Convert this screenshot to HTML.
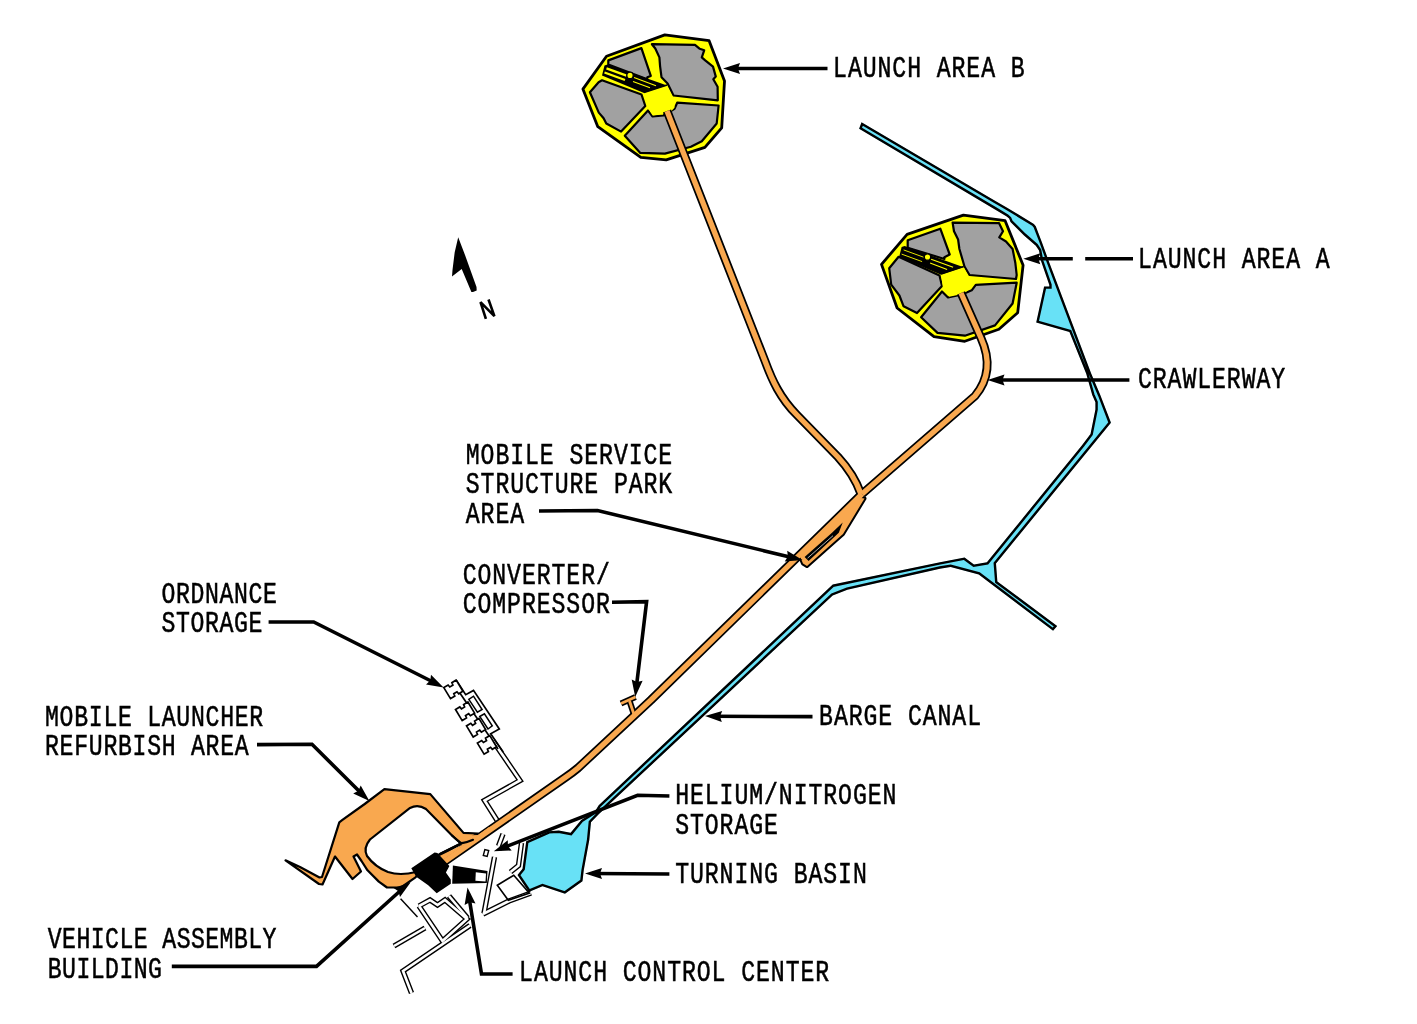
<!DOCTYPE html><html><head><meta charset="utf-8"><style>html,body{margin:0;padding:0;background:#fff;overflow:hidden;}svg{display:block}</style></head><body>
<svg width="1417" height="1024" viewBox="0 0 1417 1024">
<rect width="1417" height="1024" fill="#fff"/>
<clipPath id="cc"><polygon points="861.5,122.3 995.0,200.8 1006.7,207.5 1033.9,223.9 1035.8,226.3 1041.9,242.2 1049.1,262.0 1091.3,373.8 1100.3,395.0 1111.0,422.8 996.0,563.4 997.4,581.5 1057.2,626.1 1053.1,630.8 978.7,574.5 950.6,566.9 940.0,568.7 847.4,589.7 832.7,595.5 616.3,797.8 599.0,814.0 591.0,822.2 589.3,840.0 583.8,870.0 582.5,881.2 565.0,893.8 542.5,886.2 528.8,891.9 517.5,875.0 522.5,868.8 526.2,841.2 548.8,831.2 558.8,830.6 570.6,832.8 581.2,820.0 595.0,811.2 598.7,805.2 832.7,584.6 940.0,562.2 964.6,557.5 974.0,564.5 986.9,562.2 1082.2,445.0 1090.5,434.1 1095.4,409.6 1095.4,402.3 1092.2,395.0 1086.2,373.8 1069.4,331.9 1036.2,322.5 1044.1,286.4 1049.3,286.4 1049.3,285.0 1041.0,261.0 1039.0,250.5 1035.8,245.7 1024.0,235.4 1010.5,222.0 1009.1,218.6 1006.7,216.4 995.0,209.4 859.1,128.8"/></clipPath>
<polygon points="861.5,122.3 995.0,200.8 1006.7,207.5 1033.9,223.9 1035.8,226.3 1041.9,242.2 1049.1,262.0 1091.3,373.8 1100.3,395.0 1111.0,422.8 996.0,563.4 997.4,581.5 1057.2,626.1 1053.1,630.8 978.7,574.5 950.6,566.9 940.0,568.7 847.4,589.7 832.7,595.5 616.3,797.8 599.0,814.0 591.0,822.2 589.3,840.0 583.8,870.0 582.5,881.2 565.0,893.8 542.5,886.2 528.8,891.9 517.5,875.0 522.5,868.8 526.2,841.2 548.8,831.2 558.8,830.6 570.6,832.8 581.2,820.0 595.0,811.2 598.7,805.2 832.7,584.6 940.0,562.2 964.6,557.5 974.0,564.5 986.9,562.2 1082.2,445.0 1090.5,434.1 1095.4,409.6 1095.4,402.3 1092.2,395.0 1086.2,373.8 1069.4,331.9 1036.2,322.5 1044.1,286.4 1049.3,286.4 1049.3,285.0 1041.0,261.0 1039.0,250.5 1035.8,245.7 1024.0,235.4 1010.5,222.0 1009.1,218.6 1006.7,216.4 995.0,209.4 859.1,128.8" fill="#68E1F6" stroke="#000" stroke-width="4.8" stroke-linejoin="miter" clip-path="url(#cc)"/>
<g fill="none" stroke-linejoin="miter" stroke-linecap="butt">
<polyline points="493.0,741.0 520.0,780.5 484.5,800.5 497.5,821.0" stroke="#000" stroke-width="5.4"/>
<polyline points="503.0,834.0 498.5,846.0" stroke="#000" stroke-width="5.4"/>
<polyline points="494.5,857.0 484.0,913.5" stroke="#000" stroke-width="5.4"/>
<polyline points="483.0,914.0 509.0,901.0 531.0,893.0" stroke="#000" stroke-width="5.4"/>
<polyline points="470.0,925.5 403.0,971.0 411.5,993.0" stroke="#000" stroke-width="5.4"/>
<polyline points="425.0,928.0 394.0,946.0" stroke="#000" stroke-width="5.4"/>
<polyline points="419.0,906.0 430.0,900.0 437.5,905.0 445.0,900.0 467.0,919.0 442.5,941.0 419.0,906.0" stroke="#000" stroke-width="5.4"/>
<polyline points="449.0,896.0 467.5,918.0" stroke="#000" stroke-width="5.4"/>
<polyline points="510.5,872.0 518.5,865.5 521.5,843.0" stroke="#000" stroke-width="5.4"/>
<polyline points="493.0,741.0 520.0,780.5 484.5,800.5 497.5,821.0" stroke="#fff" stroke-width="2.6"/>
<polyline points="503.0,834.0 498.5,846.0" stroke="#fff" stroke-width="2.6"/>
<polyline points="494.5,857.0 484.0,913.5" stroke="#fff" stroke-width="2.6"/>
<polyline points="483.0,914.0 509.0,901.0 531.0,893.0" stroke="#fff" stroke-width="2.6"/>
<polyline points="470.0,925.5 403.0,971.0 411.5,993.0" stroke="#fff" stroke-width="2.6"/>
<polyline points="425.0,928.0 394.0,946.0" stroke="#fff" stroke-width="2.6"/>
<polyline points="419.0,906.0 430.0,900.0 437.5,905.0 445.0,900.0 467.0,919.0 442.5,941.0 419.0,906.0" stroke="#fff" stroke-width="2.6"/>
<polyline points="449.0,896.0 467.5,918.0" stroke="#fff" stroke-width="2.6"/>
<polyline points="510.5,872.0 518.5,865.5 521.5,843.0" stroke="#fff" stroke-width="2.6"/>
<polyline points="400.6,898.7 417.5,917" stroke="#000" stroke-width="1.4"/>
<rect x="484" y="850" width="4" height="6" fill="#fff" stroke="#000" stroke-width="1.4" transform="rotate(15 486 853)"/>
<polygon points="497.3,885.3 513.75,875.2 529.4,893.1 508.3,900.2" fill="none" stroke="#000" stroke-width="1.6"/>
</g>
<g fill="none" stroke="#000" stroke-width="1.7" stroke-linejoin="miter">
<polyline points="456.3,680.2 465.7,694.7 473.5,690.4 499.3,729 490.7,733.7 503.2,752"/>
<polyline points="458.5,691 498,749"/>
<polygon points="468.8,699.3 473.5,696.2 482.1,709.5 477.4,712.2" stroke-width="1.5"/>
<polygon points="479.75,716.5 484.4,713.8 492.25,725.9 488,729" stroke-width="1.5"/>
<polygon points="456.2,680.1 451.9,682.7 452.9,685.1 449.8,687.0 448.1,685.0 443.8,687.6 450.5,698.7 454.8,696.1 453.8,693.7 457.0,691.8 458.7,693.8 462.9,691.2" fill="#fff"/>
<polygon points="467.9,702.0 463.6,704.6 464.6,707.0 461.5,708.9 459.8,706.9 455.5,709.5 462.2,720.6 466.5,718.0 465.5,715.6 468.7,713.7 470.4,715.7 474.6,713.1" fill="#fff"/>
<polygon points="478.9,718.4 474.6,721.0 475.6,723.4 472.5,725.3 470.8,723.3 466.5,725.9 473.2,737.0 477.5,734.4 476.5,732.0 479.7,730.1 481.4,732.1 485.6,729.5" fill="#fff"/>
<polygon points="489.8,735.6 485.5,738.2 486.5,740.6 483.4,742.5 481.7,740.5 477.4,743.1 484.1,754.2 488.4,751.6 487.4,749.2 490.6,747.3 492.3,749.3 496.5,746.7" fill="#fff"/>
</g>
<g id="padB"><polygon points="664.8,34.9 709.1,40.7 724.5,81.1 721.7,127.9 704.9,147.4 666.2,159.9 640.8,157.3 597.8,126.7 582.9,89.1 606.5,56.3" fill="#FFFF00" stroke="#000" stroke-width="2.8" stroke-linejoin="round"/>
<polygon points="651.9,44.2 695.0,44.9 699.8,48.8 704.2,50.3 701.8,57.4 705.2,60.4 713.0,66.6 715.8,76.6 713.3,79.3 717.6,86.8 717.8,100.3 673.5,95.5 667.6,83.4 661.5,77.2 660.1,66.3 659.4,57.4 655.3,48.5" fill="#A1A1A1" stroke="#000" stroke-width="2.2" stroke-linejoin="round"/>
<polygon points="608.3,60.4 641.4,48.1 650.8,75.9 647.3,77.3 647.3,79.3 608.3,64.5" fill="#A1A1A1" stroke="#000" stroke-width="2.2" stroke-linejoin="round"/>
<polygon points="589.9,92.3 598.6,82.2 602.0,80.3 641.5,94.5 645.3,106.0 621.1,131.6 606.3,123.5 603.6,118.3 598.8,112.6" fill="#A1A1A1" stroke="#000" stroke-width="2.2" stroke-linejoin="round"/>
<polygon points="624.8,135.8 648.0,110.5 652.6,116.5 663.5,115.5 674.5,108.9 677.2,102.7 718.6,105.5 716.7,123.5 701.8,141.3 690.9,146.8 664.9,153.6 640.3,152.9" fill="#A1A1A1" stroke="#000" stroke-width="2.2" stroke-linejoin="round"/>
<polygon points="604.5,65.5 607.5,64.5 667.1,85.6 644.0,93.1 602.0,75.5" fill="#000"/>
<line x1="606.5" y1="68.3" x2="626.5" y2="75.6" stroke="#FFFF00" stroke-width="2.3"/>
<line x1="604.5" y1="72.5" x2="625.0" y2="80.0" stroke="#FFFF00" stroke-width="2.3"/>
<line x1="634.0" y1="77.6" x2="656.0" y2="85.7" stroke="#FFFF00" stroke-width="1.1"/>
<line x1="633.0" y1="81.5" x2="650.0" y2="87.8" stroke="#FFFF00" stroke-width="1.1"/>
<circle cx="630.0" cy="75.4" r="3.2" fill="#FFFF00" stroke="#000" stroke-width="1.3"/>
<polygon points="644.0,93.1 667.1,85.6 673.0,96.9 674.6,107.6 669.7,113.0 652.6,115.6 647.2,107.1" fill="#FFFF00"/>
<line x1="644.0" y1="92.5" x2="667.1" y2="85.0" stroke="#000" stroke-width="1.6"/></g>
<g id="padA"><polygon points="963.4,215.1 1005.1,220.7 1023.1,265.2 1017.7,312.7 998.9,329.3 964.8,341.3 934.0,336.6 897.1,308.0 881.5,264.4 907.1,234.3" fill="#FFFF00" stroke="#000" stroke-width="2.8" stroke-linejoin="round"/>
<polygon points="952.6,222.6 999.1,223.2 1003.0,231.2 999.3,237.4 1006.0,241.5 1012.6,249.0 1015.3,262.7 1016.7,275.0 1016.0,279.0 969.5,275.0 964.5,266.5 959.4,249.0 958.1,239.5 954.0,231.2" fill="#A1A1A1" stroke="#000" stroke-width="2.2" stroke-linejoin="round"/>
<polygon points="907.7,240.3 940.3,228.7 949.7,254.5 944.4,257.2 944.4,259.0 907.7,247.7" fill="#A1A1A1" stroke="#000" stroke-width="2.2" stroke-linejoin="round"/>
<polygon points="889.2,268.2 898.6,256.8 939.5,275.5 942.0,286.0 917.0,313.1 903.6,306.3 899.4,295.5 891.2,284.6" fill="#A1A1A1" stroke="#000" stroke-width="2.2" stroke-linejoin="round"/>
<polygon points="921.1,317.2 942.0,291.5 948.0,297.5 962.0,294.5 971.7,290.3 975.8,284.8 1016.7,282.7 1012.6,303.5 995.0,325.4 964.9,335.7 937.5,332.9" fill="#A1A1A1" stroke="#000" stroke-width="2.2" stroke-linejoin="round"/>
<polygon points="901.6,247.1 904.6,246.1 963.7,267.2 941.1,274.7 899.1,257.1" fill="#000"/>
<line x1="903.6" y1="249.9" x2="923.6" y2="257.2" stroke="#FFFF00" stroke-width="0.9"/>
<line x1="901.6" y1="254.1" x2="922.1" y2="261.6" stroke="#FFFF00" stroke-width="0.9"/>
<line x1="931.1" y1="259.2" x2="953.1" y2="267.3" stroke="#FFFF00" stroke-width="1.1"/>
<line x1="930.1" y1="263.1" x2="947.1" y2="269.4" stroke="#FFFF00" stroke-width="1.1"/>
<circle cx="927.5" cy="257.0" r="3.2" fill="#FFFF00" stroke="#000" stroke-width="1.3"/>
<polygon points="941.1,274.7 963.7,267.2 968.0,275.2 971.2,287.6 965.8,291.9 959.9,294.6 949.2,296.7 942.7,286.5" fill="#FFFF00"/>
<line x1="941.1" y1="274.1" x2="963.7" y2="266.6" stroke="#000" stroke-width="1.6"/></g>
<polygon points="384.4,789.2 430.3,794.1 463.5,832.9 478.0,833.5 450.0,850.0 425.0,866.0 415.5,877.4 401.0,887.5 387.0,887.5 378.8,881.6 367.5,870.3 361.5,861.0 357.0,854.5 353.5,856.5 361.0,871.5 352.5,879.0 335.0,856.5 322.5,884.5 319.0,884.0 285.5,860.3 300.0,867.0 319.5,877.5 322.0,877.0 339.3,822.3 342.1,820.2 364.7,804.0" fill="#F9A84F" stroke="#000" stroke-width="2.2" stroke-linejoin="round"/>
<path d="M370 839.5 L410 808 Q418 804 426 809 L452 835.5 Q457 840 461 843.4 L439.5 854.2 L416 872 Q400 876 388 872 Q375 867 367 856 Q363 848 370 839.5 Z" fill="#fff" stroke="#000" stroke-width="2.2"/>
<g fill="none" stroke-linejoin="round" stroke-linecap="butt">
<polygon points="857.5,497.5 864.5,498.5 843.0,534.0 834.5,541.5 807.0,566.0 803.0,563.5 799.0,554.0" fill="#000" stroke="#000" stroke-width="4"/>
<path d="M629.5 701 L634.5 716" stroke="#000" stroke-width="6.2"/>
<path d="M621 703.5 L635.5 697" stroke="#000" stroke-width="6.2"/>
<path d="M667 111 L765 361 C772 380 780 398 797 415 L838 457 C850 470 856 480 861 494" stroke="#000" stroke-width="8.8"/>
<path d="M961 293 L981 338 C990 358 990 378 975 396 L862 494" stroke="#000" stroke-width="8.8"/>
<path d="M862 494 L651 700 L578 768 Q572 773 566 777 L444 862" stroke="#000" stroke-width="8.8"/>
<path d="M629.5 701 L634.5 716" stroke="#F9A84F" stroke-width="2.8"/>
<path d="M621 703.5 L635.5 697" stroke="#F9A84F" stroke-width="2.8"/>
<path d="M667 111 L765 361 C772 380 780 398 797 415 L838 457 C850 470 856 480 861 494" stroke="#F9A84F" stroke-width="5.3"/>
<path d="M961 293 L981 338 C990 358 990 378 975 396 L862 494" stroke="#F9A84F" stroke-width="5.3"/>
<path d="M862 494 L651 700 L578 768 Q572 773 566 777 L444 862" stroke="#F9A84F" stroke-width="5.3"/>
<polygon points="857.5,497.5 864.5,498.5 843.0,534.0 834.5,541.5 807.0,566.0 803.0,563.5 799.0,554.0" fill="#F9A84F" stroke="none"/>
<polygon points="842.7,522.5 838.8,532.7 808.6,561 804.6,557.1 832,532.7" fill="#000"/>
<polygon points="463,835.5 478,835 488.6,827.3 491.5,826.5 440,862 439,856.2 461.5,845.2" fill="#F9A84F"/>
<path d="M452 835.5 Q457 840 461 843.4 Q467 842.5 473 839.8" fill="none" stroke="#000" stroke-width="2.2" stroke-linecap="round"/>
<path d="M461 843.4 L439.5 854.2" fill="none" stroke="#000" stroke-width="2.2"/>
<line x1="833" y1="535.7" x2="807.6" y2="558.1" stroke="#fff" stroke-width="0.7"/>
</g>
<polygon points="411.3,868.2 434.6,852.4 437.4,853.1 449.4,866.1 445.9,872.5 450.8,879.5 450.8,883.8 436.7,893.3 428.2,885.2 416.2,876.7" fill="#000"/>
<polygon points="452.9,865.4 487.5,871 486.8,883 452.2,883.8" fill="#000"/>
<polygon points="475.8,872.3 486,873.5 485.5,881.4 475.4,880.8" fill="#fff"/>
<g fill="none" stroke="#000" stroke-width="3.6" stroke-linejoin="miter" stroke-linecap="butt">
<polyline points="827.5,68.5 730.0,68.5"/>
<polyline points="1072.8,258.8 1030.0,258.8"/>
<polyline points="1133.0,258.8 1085.2,258.8"/>
<polyline points="1129.4,380.0 995.0,380.0"/>
<polyline points="539.0,511.0 597.5,510.5 796.0,558.5"/>
<polyline points="612.0,602.3 646.6,601.7 636.0,690.0"/>
<polyline points="268.6,622.0 313.7,622.0 437.0,684.0"/>
<polyline points="257.0,744.6 312.0,744.3 364.0,796.0"/>
<polyline points="171.8,966.4 316.5,966.4 405.0,886.5"/>
<polyline points="512.6,974.0 481.5,974.0 468.5,894.0"/>
<polyline points="812.5,716.6 712.0,716.3"/>
<polyline points="669.4,796.0 637.6,795.2 500.0,849.0"/>
<polyline points="669.4,874.0 592.0,873.5"/>
</g>
<polygon points="723.0,68.5 740.0,74.0 738.0,68.5 740.0,63.0" fill="#000"/>
<polygon points="1023.3,258.8 1040.3,264.3 1038.3,258.8 1040.3,253.3" fill="#000"/>
<polygon points="987.5,380.0 1004.5,385.5 1002.5,380.0 1004.5,374.5" fill="#000"/>
<polygon points="802.5,560.0 787.2,550.8 787.9,556.6 784.7,561.5" fill="#000"/>
<polygon points="635.2,697.0 642.6,680.7 636.9,682.1 631.7,679.5" fill="#000"/>
<polygon points="443.6,687.4 431.0,674.7 430.3,680.5 426.0,684.5" fill="#000"/>
<polygon points="369.4,801.0 360.7,785.4 358.4,790.8 353.2,793.5" fill="#000"/>
<polygon points="410.5,882.5 393.5,888.1 398.4,891.3 400.0,896.9" fill="#000"/>
<polygon points="467.5,887.5 464.6,905.1 469.8,902.3 475.5,903.5" fill="#000"/>
<polygon points="705.0,716.1 721.8,722.1 720.0,716.5 722.2,711.1" fill="#000"/>
<polygon points="493.8,851.3 511.7,850.5 507.9,846.1 507.8,840.2" fill="#000"/>
<polygon points="585.0,873.5 602.0,879.0 600.0,873.5 602.0,868.0" fill="#000"/>
<polygon points="458.2,237.2 465,255 476.5,287 476.7,290.4 473,292 471.4,292 461.7,268.9 452,276.4 452.5,270 454.7,252.2" fill="#000"/>
<polyline points="485.9,318.8 480.5,302.2 494.4,316.1 488.5,299.5" fill="none" stroke="#000" stroke-width="2.6" stroke-linejoin="miter"/>
<g font-family="Liberation Mono" font-size="29.3" fill="#000" stroke="#000" stroke-width="0.55" letter-spacing="1.17" style="filter:grayscale(1)">
<text transform="translate(833.1,76.7) scale(0.790,1)">LAUNCH AREA B</text>
<text transform="translate(1138.1,267.5) scale(0.790,1)">LAUNCH AREA A</text>
<text transform="translate(1138.0,387.5) scale(0.790,1)">CRAWLERWAY</text>
<text transform="translate(465.8,464.0) scale(0.790,1)">MOBILE SERVICE</text>
<text transform="translate(465.8,493.4) scale(0.790,1)">STRUCTURE PARK</text>
<text transform="translate(465.8,522.8) scale(0.790,1)">AREA</text>
<text transform="translate(462.7,584.0) scale(0.790,1)">CONVERTER/</text>
<text transform="translate(462.7,613.4) scale(0.790,1)">COMPRESSOR</text>
<text transform="translate(161.5,602.7) scale(0.790,1)" letter-spacing="0.80">ORDNANCE</text>
<text transform="translate(161.5,632.1) scale(0.790,1)" letter-spacing="0.80">STORAGE</text>
<text transform="translate(45.0,726.0) scale(0.790,1)" letter-spacing="0.90">MOBILE LAUNCHER</text>
<text transform="translate(45.0,755.4) scale(0.790,1)" letter-spacing="0.90">REFURBISH AREA</text>
<text transform="translate(47.8,948.2) scale(0.790,1)" letter-spacing="0.55">VEHICLE ASSEMBLY</text>
<text transform="translate(47.8,977.6) scale(0.790,1)" letter-spacing="0.55">BUILDING</text>
<text transform="translate(675.2,804.1) scale(0.790,1)">HELIUM/NITROGEN</text>
<text transform="translate(675.2,833.5) scale(0.790,1)">STORAGE</text>
<text transform="translate(675.2,882.8) scale(0.790,1)">TURNING BASIN</text>
<text transform="translate(819.1,724.9) scale(0.790,1)">BARGE CANAL</text>
<text transform="translate(519.1,980.6) scale(0.790,1)">LAUNCH CONTROL CENTER</text>
</g>
</svg></body></html>
